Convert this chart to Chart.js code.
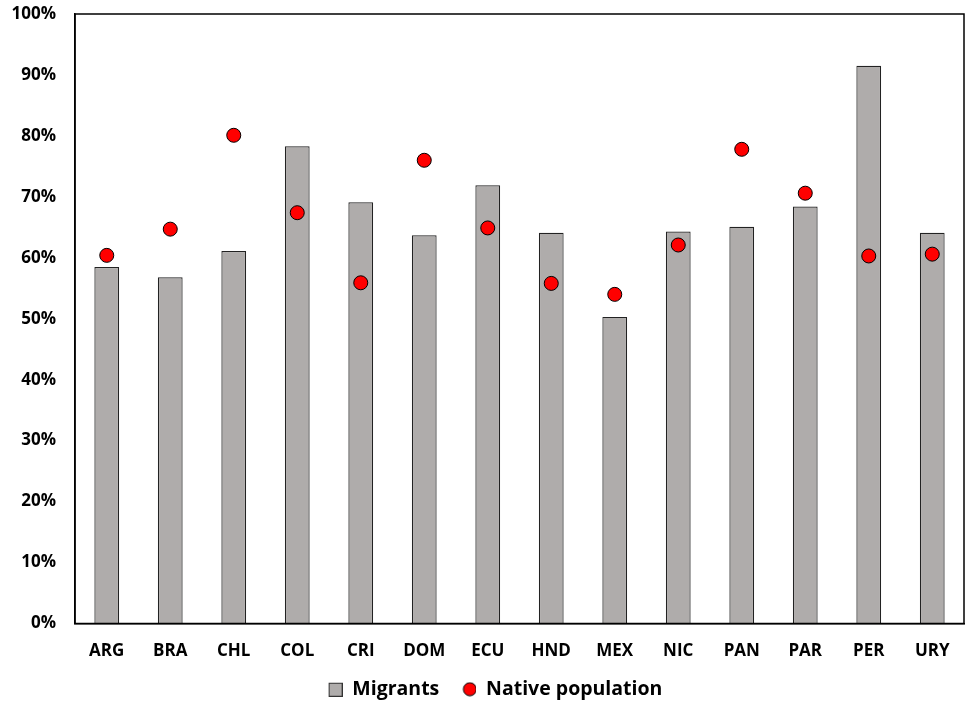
<!doctype html>
<html>
<head>
<title>Migrants vs native population</title>
<style>
body { margin: 0; background: #fff; }
.container { width: 972px; height: 709px; }
</style>
</head>
<body>
<div class="container">
<canvas id="myChart"></canvas>
</div>

<script src="https://cdn.jsdelivr.net/npm/chart.js@4/dist/chart.umd.min.js"></script>
<script>

var countries = ['ARG', 'BRA', 'CHL', 'COL', 'CRI', 'DOM', 'ECU', 'HND', 'MEX', 'NIC', 'PAN', 'PAR', 'PER', 'URY'];
var migrants = [58.5, 56.8, 61.1, 78.3, 69.1, 63.7, 71.9, 64.1, 50.3, 64.3, 65.1, 68.4, 91.5, 64.1];
var nativePop = [60.4, 64.7, 80.1, 67.4, 55.9, 76.0, 64.9, 55.8, 54.0, 62.1, 77.8, 70.6, 60.3, 60.6];
var yTicks = [0, 10, 20, 30, 40, 50, 60, 70, 80, 90, 100];

// box round the plot area (top and right sides too)
var frame = {
  id: 'frame',
  afterDraw: function(chart) {
    var a = chart.chartArea, c = chart.ctx;
    c.save();
    c.strokeStyle = '#000';
    c.lineWidth = 1.5;
    c.strokeRect(a.left, a.top, a.right - a.left, a.bottom - a.top);
    c.restore();
  }
};

// legend markers: shape sits at the right end of a wider transparent image
function legendIcon(kind) {
  var cv = document.createElement('canvas');
  cv.width = 34; cv.height = 15;
  var g = cv.getContext('2d');
  g.lineWidth = 1;
  if (kind === 'circle') {
    g.fillStyle = '#FF0000';
    g.strokeStyle = '#000';
    g.beginPath();
    g.arc(27.5, 7.5, 6.5, 0, Math.PI * 2);
    g.fill(); g.stroke();
  } else {
    g.fillStyle = '#AFACAB';
    g.strokeStyle = '#333';
    g.fillRect(20.5, 1.5, 13, 13);
    g.strokeRect(20.5, 1.5, 13, 13);
  }
  return cv;
}
var barIcon = legendIcon('rect');
var dotIcon = legendIcon('circle');

Chart.defaults.font.family = '"Open Sans", sans-serif';
Chart.defaults.font.weight = 'bold';
Chart.defaults.color = '#000';

var ctx = document.getElementById('myChart').getContext('2d');
var myChart = new Chart(ctx, {
  type: 'bar',
  data: {
    labels: countries,
    datasets: [{
      type: 'line',
      label: 'Native population',
      data: nativePop,
      showLine: false,
      pointRadius: 7,
      pointHoverRadius: 7,
      pointBackgroundColor: '#FF0000',
      pointBorderColor: '#000',
      pointBorderWidth: 1,
      backgroundColor: '#FF0000',
      borderColor: '#000',
      order: 0
    }, {
      label: 'Migrants',
      data: migrants,
      backgroundColor: '#AFACAB',
      borderColor: '#222',
      borderWidth: 1.2,
      categoryPercentage: 1,
      barPercentage: 0.39,
      order: 1
    }]
  },
  options: {
    responsive: true,
    maintainAspectRatio: false,
    animation: false,
    layout: { padding: { top: 14, right: 1, left: 0, bottom: 0 } },
    plugins: {
      tooltip: { enabled: false },
      legend: {
        position: 'bottom',
        reverse: true,
        labels: {
          usePointStyle: true,
          pointStyleWidth: 34,
          boxHeight: 15,
          padding: 3,
          font: { size: 19.5, weight: 'bold' },
          generateLabels: function(chart) {
            var items = Chart.defaults.plugins.legend.labels.generateLabels(chart);
            items.forEach(function(it) {
              var ds = chart.data.datasets[it.datasetIndex];
              it.pointStyle = ds.type === 'line' ? dotIcon : barIcon;
            });
            return items;
          }
        }
      }
    },
    scales: {
      x: {
        afterFit: function(axis) {
          axis.height = 53;
          axis.paddingLeft = 0; axis.paddingRight = 0;
        },
        grid: { display: false, drawTicks: false },
        border: { color: '#000', width: 1.5 },
        ticks: { padding: 17, font: { size: 17, weight: 'bold' } }
      },
      y: {
        min: 0,
        max: 100,
        afterBuildTicks: function(axis) {
          axis.ticks = yTicks.map(function(v) { return { value: v }; });
        },
        afterFit: function(axis) {
          axis.width = 75;
          axis.paddingTop = 0; axis.paddingBottom = 0;
        },
        grid: { display: false, drawTicks: false },
        border: { color: '#000', width: 1.5 },
        ticks: {
          padding: 19,
          font: { size: 17, weight: 'bold' },
          callback: function(v) { return v + '%'; }
        }
      }
    }
  },
  plugins: [frame]
});

</script>
</body>
</html>
